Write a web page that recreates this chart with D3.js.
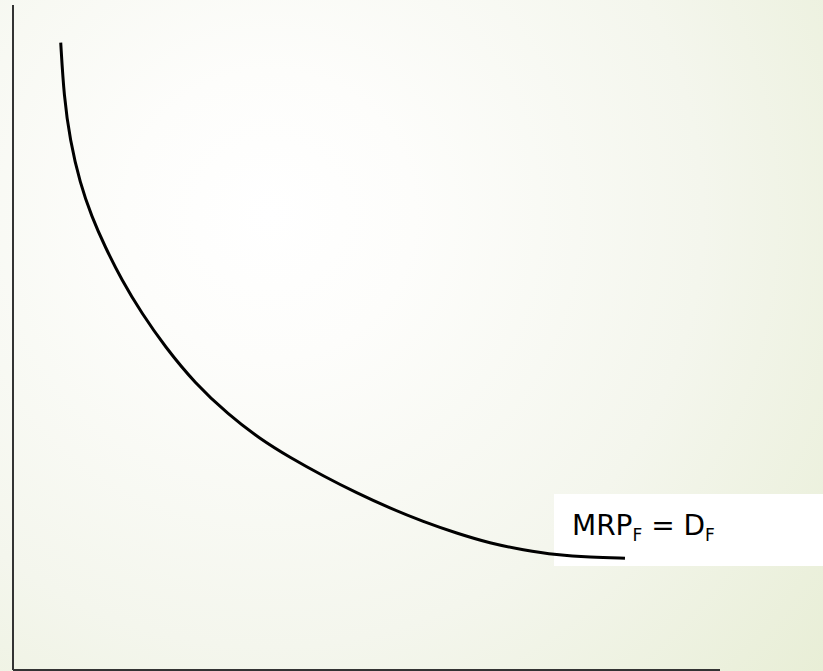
<!DOCTYPE html>
<html>
<head>
<meta charset="utf-8">
<script src="https://cdn.jsdelivr.net/npm/d3@7"></script>
<style>
  html, body { margin: 0; padding: 0; background: #f4f6ec; }
  svg { display: block; }
</style>
</head>
<body>
<svg id="chart" width="823" height="671"></svg>
<script>
// MRP = D curve (quantity vs price, arbitrary units 0-100)
const quantity = [6.75, 7.21, 8.06, 9.48, 11.13, 13.01, 15.37, 18.20, 21.50, 25.74, 30.45, 34.94,
                  39.18, 43.89, 48.61, 53.32, 58.03, 62.76, 67.47, 72.18, 76.90, 81.61, 86.56];
const price = [94.33, 86.21, 79.70, 73.19, 68.17, 63.65, 58.65, 53.64, 48.62, 43.11, 38.42, 34.74,
               31.95, 29.17, 26.62, 24.32, 22.30, 20.56, 19.05, 18.05, 17.29, 16.95, 16.80];
const curveLabel = ["MRP", "F", " = D", "F"];

const width = 823;
const height = 671;
const svg = d3.select("#chart");

// 배경 (radial gradient)
const defs = svg.append("defs");
const grad = defs.append("radialGradient")
    .attr("id", "bg")
    .attr("gradientUnits", "userSpaceOnUse")
    .attr("cx", 270).attr("cy", 215).attr("r", 720);
grad.append("stop").attr("offset", "0").attr("stop-color", "#ffffff");
grad.append("stop").attr("offset", "0.2").attr("stop-color", "#fdfdfb");
grad.append("stop").attr("offset", "0.6").attr("stop-color", "#f4f6ed");
grad.append("stop").attr("offset", "1").attr("stop-color", "#e8eed6");

svg.append("rect")
    .attr("width", width).attr("height", height)
    .attr("fill", "url(#bg)");

const x = d3.scaleLinear().domain([0, 100]).range([13, 720]);
const y = d3.scaleLinear().domain([0, 100]).range([670, 5]);

// 축 (눈금 없음)
svg.append("line")
    .attr("x1", x(0)).attr("x2", x(0))
    .attr("y1", y(100)).attr("y2", y(0))
    .attr("stroke", "#333").attr("stroke-width", 2);
svg.append("line")
    .attr("x1", x(0)).attr("x2", x(100))
    .attr("y1", y(0)).attr("y2", y(0))
    .attr("stroke", "#333").attr("stroke-width", 2);

// 라벨 배경 상자
svg.append("rect")
    .attr("x", 554).attr("y", 494)
    .attr("width", width - 554).attr("height", 72)
    .attr("fill", "#ffffff");

// 곡선
const pts = quantity.map((q, i) => [q, price[i]]);
const line = d3.line()
    .x(d => x(d[0]))
    .y(d => y(d[1]))
    .curve(d3.curveBasis);

svg.append("path")
    .datum(pts)
    .attr("d", line)
    .attr("fill", "none")
    .attr("stroke", "#000")
    .attr("stroke-width", 3);

// 라벨
const label = svg.append("text")
    .attr("x", 572).attr("y", 535)
    .attr("font-family", "'DejaVu Sans', sans-serif")
    .attr("font-size", 28)
    .attr("fill", "#000");
curveLabel.forEach((t, i) => {
    label.append("tspan")
        .attr("font-size", i % 2 ? 17 : 28)
        .attr("dy", i % 2 ? 6 : (i ? -6 : 0))
        .text(t);
});
</script>
</body>
</html>
